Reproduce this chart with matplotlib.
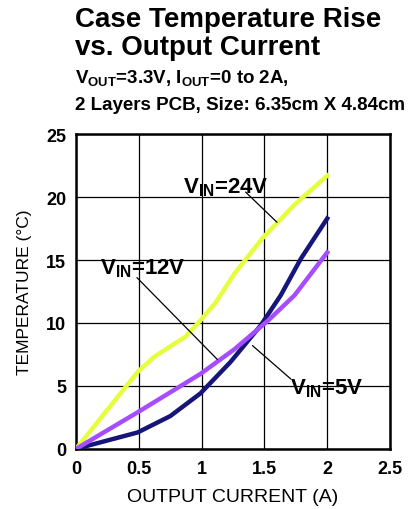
import matplotlib
matplotlib.use('Agg')
import matplotlib.pyplot as plt
import numpy as np

plt.rcParams['font.family'] = ['Liberation Sans', 'DejaVu Sans']
plt.rcParams['mathtext.default'] = 'regular'

i_24 = [0, 0.49, 0.62, 0.87, 0.99, 1.11, 1.26, 1.49, 1.74, 2.0]
t_24 = [0, 6.1, 7.3, 8.9, 10.2, 11.6, 13.9, 16.8, 19.4, 21.7]
i_12 = [0, 0.49, 0.99, 1.26, 1.53, 1.74, 2.0]
t_12 = [0, 2.9, 5.95, 7.9, 10.2, 12.2, 15.6]
i_5 = [0, 0.49, 0.75, 0.99, 1.23, 1.47, 1.63, 1.79, 2.0]
t_5 = [0, 1.3, 2.6, 4.4, 6.9, 9.8, 12.2, 15.1, 18.3]

# curve labels: text position, leader start, leader end
labels = ['V$_{IN}$=24V', 'V$_{IN}$=12V', 'V$_{IN}$=5V']
label_xy = [(0.85, 20.4), (0.19, 13.9), (1.70, 4.4)]
lead_from = [(1.35, 20.4), (0.485, 13.6), (1.405, 8.2)]
lead_to = [(1.60, 18.0), (1.125, 7.1), (1.71, 5.55)]

fig = plt.figure(figsize=(4.18, 5.10), dpi=100)
ax = fig.add_axes([0.182, 0.118, 0.751, 0.617])

ax.plot(i_24, t_24, color='#e6ff3c', lw=3.2, zorder=3)
ax.plot(i_12, t_12, color='#a64dff', lw=3.2, zorder=4)
ax.plot(i_5, t_5, color='#15157a', lw=3.2, zorder=3)

for lab, txy, p0, p1 in zip(labels, label_xy, lead_from, lead_to):
    ax.annotate('', xy=p1, xytext=p0,
                arrowprops=dict(arrowstyle='-', color='black', lw=0.9,
                                shrinkA=0, shrinkB=0), zorder=5)
    ax.text(txy[0], txy[1], lab, fontsize=16, fontweight='bold',
            va='baseline', ha='left', zorder=6)

ax.set_xlim(0, 2.5)
ax.set_ylim(0, 25)
ax.set_xticks(np.arange(0, 2.51, 0.5))
ax.set_yticks(np.arange(0, 26, 5))
ax.set_xticklabels(['0', '0.5', '1', '1.5', '2', '2.5'])
ax.grid(True, color='black', lw=0.9)
ax.tick_params(length=0, labelsize=13)
ax.tick_params(axis='x', pad=8)
ax.tick_params(axis='y', pad=7)
for lab in ax.get_xticklabels() + ax.get_yticklabels():
    lab.set_fontweight('bold')
for s in ax.spines.values():
    s.set_linewidth(1.8)

ax.set_xlabel('OUTPUT CURRENT (A)', fontsize=14, labelpad=8)
ax.set_ylabel('TEMPERATURE (°C)', fontsize=12.5, labelpad=10)

fig.text(0.18, 0.947, 'Case Temperature Rise', fontsize=20,
         fontweight='bold', va='baseline', ha='left')
fig.text(0.18, 0.892, 'vs. Output Current', fontsize=20,
         fontweight='bold', va='baseline', ha='left')
fig.text(0.18, 0.837, 'V$_{OUT}$=3.3V, I$_{OUT}$=0 to 2A,', fontsize=13.5,
         fontweight='bold', va='baseline', ha='left')
fig.text(0.18, 0.784, '2 Layers PCB, Size: 6.35cm X 4.84cm', fontsize=13.5,
         fontweight='bold', va='baseline', ha='left')

fig.savefig('out.png', dpi=100)
